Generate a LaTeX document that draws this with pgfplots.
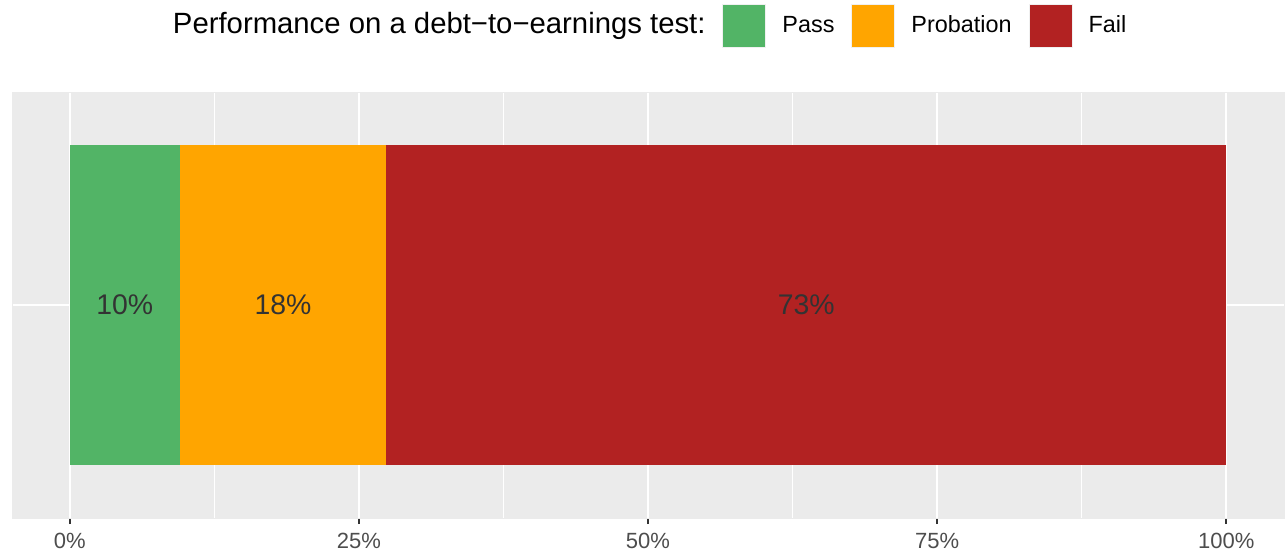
\documentclass[border=0pt]{standalone}
\usepackage{fontspec}
\setmainfont{Liberation Sans}
\usepackage{pgfplots}
\pgfplotsset{compat=1.18}
\definecolor{passgreen}{HTML}{52B466}
\definecolor{probor}{HTML}{FFA500}
\definecolor{failred}{HTML}{B22222}
\definecolor{panelbg}{HTML}{EBEBEB}
\definecolor{tickcol}{HTML}{4D4D4D}
\definecolor{txtcol}{HTML}{333333}
\tikzset{lbl/.style={font=\fontsize{14.2}{17}\selectfont, text=txtcol, anchor=center, inner sep=0pt}}
\pgfplotsset{
  keyimg/.style={legend image code/.code={\draw[##1,draw=black!6,line width=0.5pt] (0pt,-10.75pt) rectangle (21.5pt,10.75pt);}},
}
\begin{document}
\begin{tikzpicture}
\begin{axis}[
  set layers=standard,
  scale only axis,
  width=636pt, height=213pt,
  xbar stacked,
  bar width=0.9,
  clip=false,
  xmin=-5, xmax=105,
  ymin=-0.6, ymax=0.6,
  axis background/.style={fill=panelbg},
  axis line style={panelbg, line width=0.1pt},
  xtick={0,25,50,75,100},
  xticklabels={0\%,25\%,50\%,75\%,100\%},
  minor xtick={12.5,37.5,62.5,87.5},
  xtick pos=left,
  ytick={0},
  yticklabels={},
  xmajorgrids, xminorgrids, ymajorgrids,
  major grid style={white, line width=1pt},
  minor grid style={white, line width=0.5pt},
  xtick align=outside,
  major x tick style={draw=txtcol, line width=1pt},
  major tick length=3pt,
  minor tick length=0pt,
  ytick style={draw=none},
  xticklabel style={font=\fontsize{11}{13}\selectfont, text=tickcol, anchor=base, inner sep=0pt, yshift=-12pt},
  nodes near coords,
  point meta=explicit symbolic,
  every node near coord/.style={lbl},
  legend columns=-1,
  legend style={
    at={(axis description cs:0.5582,1.1549)}, anchor=west,
    draw=none, fill=none, inner sep=0pt,
    font=\fontsize{11.7}{14}\selectfont,
    nodes={inner sep=0pt},
    /tikz/every odd column/.append style={column sep=8pt},
    /tikz/every even column/.append style={column sep=8.5pt},
  },
]
\addplot[fill=passgreen, draw=none, keyimg] coordinates {(9.5,0) [10\%]};
\addplot[fill=probor, draw=none, keyimg] coordinates {(17.87,0) [18\%]};
\addplot[fill=failred, draw=none, keyimg] coordinates {(72.63,0) [73\%]};
\legend{Pass,Probation,Fail}
\node[anchor=east, inner sep=0pt, font=\fontsize{14.65}{17}\selectfont, text=black] at (axis description cs:0.5456,1.1549) {Performance on a debt−to−earnings test:};
\end{axis}
\pgfresetboundingbox
\path ([xshift=-6pt,yshift=-19.5pt]current axis.south west) rectangle ([xshift=1pt,yshift=46pt]current axis.north east);
\end{tikzpicture}
\end{document}
